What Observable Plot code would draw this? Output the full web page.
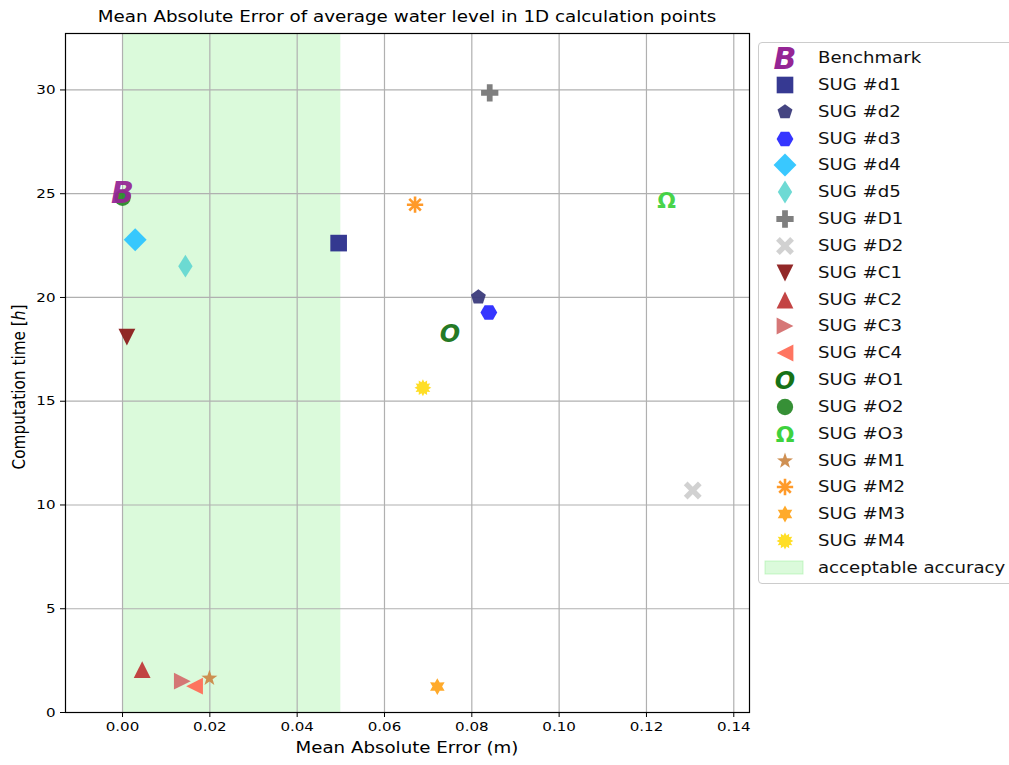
<!DOCTYPE html>
<html><head><meta charset="utf-8">
<script src="https://cdn.jsdelivr.net/npm/d3@7"></script>
<script src="https://cdn.jsdelivr.net/npm/@observablehq/plot@0.6"></script>
<style>
body{margin:0;background:#fff;}
#wrap{position:relative;width:1009px;height:765px;overflow:hidden;font-family:"DejaVu Sans",sans-serif;color:#000;background:#fff;}
#wrap > svg{position:absolute;left:0;top:0;}
#title{position:absolute;left:65px;width:684px;top:8px;text-align:center;font-size:15.5px;white-space:nowrap;transform:scaleX(1.18);transform-origin:center;}
#xlabel{position:absolute;left:65px;width:684px;top:739px;text-align:center;font-size:15.5px;white-space:nowrap;transform:scaleX(1.175);transform-origin:center;}
#ylabel{position:absolute;left:19px;top:387px;transform:translate(-50%,-50%) rotate(-90deg) scaleY(1.17);font-size:15.3px;white-space:nowrap;}
#legend{position:absolute;left:758px;top:42px;width:270px;height:540px;border:1px solid #cccccc;border-radius:4px;background:#fff;}
.row{position:absolute;left:0;height:26px;width:260px;}
.row svg{position:absolute;left:6px;top:0;overflow:visible;}
.row span{position:absolute;left:59px;top:0;line-height:26px;font-size:15.5px;color:#111;white-space:nowrap;transform:scaleX(1.17);transform-origin:left center;}
</style></head>
<body>
<div id="wrap">
  <div id="title">Mean Absolute Error of average water level in 1D calculation points</div>
  <div id="xlabel">Mean Absolute Error (m)</div>
  <div id="ylabel">Computation time [<i>h</i>]</div>
  <div id="legend"></div>
</div>
<script>
// ---- data ----
const seriesNames = ["Benchmark","SUG #d1","SUG #d2","SUG #d3","SUG #d4","SUG #d5","SUG #D1","SUG #D2","SUG #C1","SUG #C2","SUG #C3","SUG #C4","SUG #O1","SUG #O2","SUG #O3","SUG #M1","SUG #M2","SUG #M3","SUG #M4"];
const maeValues  = [0.0, 0.0495, 0.0815, 0.0839, 0.0029, 0.0144, 0.0841, 0.1306, 0.0010, 0.0045, 0.0137, 0.0165, 0.0750, 0.0, 0.1246, 0.0199, 0.0670, 0.0721, 0.0688];
const timeValues = [25.0, 22.62, 20.02, 19.28, 22.78, 21.51, 29.86, 10.70, 18.09, 2.07, 1.51, 1.27, 18.22, 24.8, 24.64, 1.65, 24.47, 1.25, 15.65];
const acceptableRange = [0.0, 0.05];
const acceptableLabel = "acceptable accuracy";
const xTicks = [0, 0.02, 0.04, 0.06, 0.08, 0.10, 0.12, 0.14];
const yTicks = [0, 5, 10, 15, 20, 25, 30];

// ---- styles ----
const markerShapes = ["textB","square","pentagon","hexagon","diamond","thindiamond","plus","xfilled","tridown","triup","triright","trileft","textO","circle","textOmega","star5","asterisk","hexagram","sun"];
const markerColors = ["#952595","#2b2e8c","#3b3b7b","#2a2aff","#2ec5ff","#66d8d2","#787878","#cfcfcf","#8c1c1c","#c03a3a","#d47070","#ff6e58","#177217","#2b8a2b","#3ed23e","#cc8a4a","#ff9a2a","#ffa520","#ffdc1a"];
const textGlyphs = {textB:{t:"B",size:30,style:"italic",weight:"bold"}, textO:{t:"O",size:24,style:"italic",weight:"bold"}, textOmega:{t:"Ω",size:22,style:"normal",weight:"bold"}};

function poly(pts){return {draw(c,s){const R=Math.sqrt(s/Math.PI);pts.forEach(([x,y],i)=>i?c.lineTo(x*R,y*R):c.moveTo(x*R,y*R));c.closePath();}};}
function regular(n, rad, start){const p=[];for(let i=0;i<n;i++){const a=start+i*2*Math.PI/n;p.push([rad*Math.cos(a),rad*Math.sin(a)]);}return p;}
function starPts(n, outer, inner){const p=[];for(let i=0;i<2*n;i++){const a=-Math.PI/2+i*Math.PI/n;const r=i%2?inner:outer;p.push([r*Math.cos(a),r*Math.sin(a)]);}return p;}
function rotate(pts,a){return pts.map(([x,y])=>[x*Math.cos(a)-y*Math.sin(a),x*Math.sin(a)+y*Math.cos(a)]);}
const plusPts=(e,t)=>[[-t,-e],[t,-e],[t,-t],[e,-t],[e,t],[t,t],[t,e],[-t,e],[-t,t],[-e,t],[-e,-t],[-t,-t]];
const symbolDefs = {
  square: poly([[-1.04,-1.04],[1.04,-1.04],[1.04,1.04],[-1.04,1.04]]),
  pentagon: poly(regular(5,0.98,-Math.PI/2)),
  hexagon: poly(regular(6,1.05,0)),
  diamond: poly([[0,-1.43],[1.43,0],[0,1.43],[-1.43,0]]),
  thindiamond: poly([[0,-1.43],[0.9,0],[0,1.43],[-0.9,0]]),
  plus: poly(plusPts(1.08,0.36)),
  xfilled: poly(rotate(plusPts(1.25,0.33),Math.PI/4)),
  tridown: poly([[0,1.05],[-1.05,-1.05],[1.05,-1.05]]),
  triup: poly([[0,-1.05],[1.05,1.05],[-1.05,1.05]]),
  triright: poly([[1.05,0],[-1.05,1.05],[-1.05,-1.05]]),
  trileft: poly([[-1.05,0],[1.05,-1.05],[1.05,1.05]]),
  circle: {draw(c,s){const R=Math.sqrt(s/Math.PI)*1.02;c.moveTo(R,0);c.arc(0,0,R,0,2*Math.PI);}},
  star5: poly(starPts(5,1.05,0.42)),
  hexagram: poly(starPts(6,1.05,0.6)),
  sun: poly(starPts(12,1.05,0.72)),
  asterisk: {draw(c,s){const R=Math.sqrt(s/Math.PI)*1.02;for(let k=0;k<4;k++){const a=k*Math.PI/4;c.moveTo(-R*Math.cos(a),-R*Math.sin(a));c.lineTo(R*Math.cos(a),R*Math.sin(a));}}}
};

// ---- main chart ----
const points = seriesNames.map((name,i)=>({name, mae:maeValues[i], time:timeValues[i], shape:markerShapes[i], color:markerColors[i]}));
const drawOrder = points.slice().sort((a,b)=>(b.shape==="circle")-(a.shape==="circle"));
const pointMarks = drawOrder.map(p=>{
  const d=[p];
  if (textGlyphs[p.shape]) {
    const g=textGlyphs[p.shape];
    return Plot.text(d,{x:"mae",y:"time",text:()=>g.t,fill:p.color,fontSize:g.size,fontStyle:g.style,fontWeight:g.weight,fontFamily:"DejaVu Sans",textAnchor:"middle",lineAnchor:"middle",fillOpacity:0.95});
  }
  if (p.shape==="asterisk") return Plot.dot(d,{x:"mae",y:"time",symbol:symbolDefs.asterisk,r:8,stroke:p.color,fill:"none",strokeWidth:2.6});
  return Plot.dot(d,{x:"mae",y:"time",symbol:symbolDefs[p.shape],r:8,fill:p.color,stroke:"none",fillOpacity:0.95});
});

const chart = Plot.plot({
  width:760, height:765,
  marginLeft:65, marginRight:11, marginTop:33, marginBottom:53,
  style:{fontFamily:"DejaVu Sans", fontSize:"13px", color:"black", background:"transparent", overflow:"visible"},
  x:{domain:[-0.01306,0.1436]},
  y:{domain:[0,32.72]},
  marks:[
    Plot.rect([{x1:acceptableRange[0],x2:acceptableRange[1]}],{x1:"x1",x2:"x2",fill:"#90ee90",fillOpacity:0.32}),
    Plot.gridX(xTicks,{stroke:"#b0b0b0",strokeOpacity:1,strokeWidth:1.2}),
    Plot.gridY(yTicks,{stroke:"#b0b0b0",strokeOpacity:1,strokeWidth:1.2}),
    ...pointMarks,
    Plot.frame({stroke:"black",strokeWidth:1.2}),
    Plot.axisX(xTicks,{tickFormat:d=>d.toFixed(2),tickSize:5,tickPadding:4,label:null,fontSize:13}),
    Plot.axisY(yTicks,{tickSize:5,tickPadding:5,label:null,fontSize:13})
  ]
});
document.getElementById("wrap").prepend(chart);

// widen tick labels to match the reference's wider lettering
function widen(sel, s, anchor){
  d3.select(chart).selectAll(sel).each(function(){
    const bb=this.getBBox();
    const cx = anchor==="end" ? bb.x+bb.width : bb.x+bb.width/2;
    const t=this.getAttribute("transform")||"";
    this.setAttribute("transform", `${t} translate(${cx},0) scale(${s},1) translate(${-cx},0)`);
  });
}
widen('g[aria-label="x-axis tick label"] text', 1.16, "middle");
widen('g[aria-label="y-axis tick label"] text', 1.16, "end");

// ---- legend ----
const legend = d3.select("#legend");
points.forEach((p,i)=>{
  const row = legend.append("div").attr("class","row").style("top",(15+26.84*i-13)+"px");
  const svg = row.append("svg").attr("width",40).attr("height",26);
  const g = svg.append("g").attr("transform","translate(20,13)");
  if (textGlyphs[p.shape]) {
    const t=textGlyphs[p.shape];
    g.append("text").text(t.t).attr("text-anchor","middle").attr("dy","0.36em")
      .attr("fill",p.color).style("font-size",t.size+"px").style("font-style",t.style).style("font-weight",t.weight).style("font-family","DejaVu Sans");
  } else {
    const path = d3.symbol(symbolDefs[p.shape], Math.PI*64)();
    const el = g.append("path").attr("d",path);
    if (p.shape==="asterisk") el.attr("fill","none").attr("stroke",p.color).attr("stroke-width",2.6);
    else el.attr("fill",p.color).attr("fill-opacity",0.95);
  }
  row.append("span").text(p.name);
});
const arow = legend.append("div").attr("class","row").style("top",(15+26.84*seriesNames.length-13)+"px");
const asvg = arow.append("svg").attr("width",40).attr("height",26);
asvg.append("rect").attr("x",0).attr("y",6).attr("width",38).attr("height",13).attr("fill","#90ee90").attr("fill-opacity",0.32).attr("stroke","#90ee90").attr("stroke-opacity",0.45);
arow.append("span").text(acceptableLabel);
</script>
</body></html>
